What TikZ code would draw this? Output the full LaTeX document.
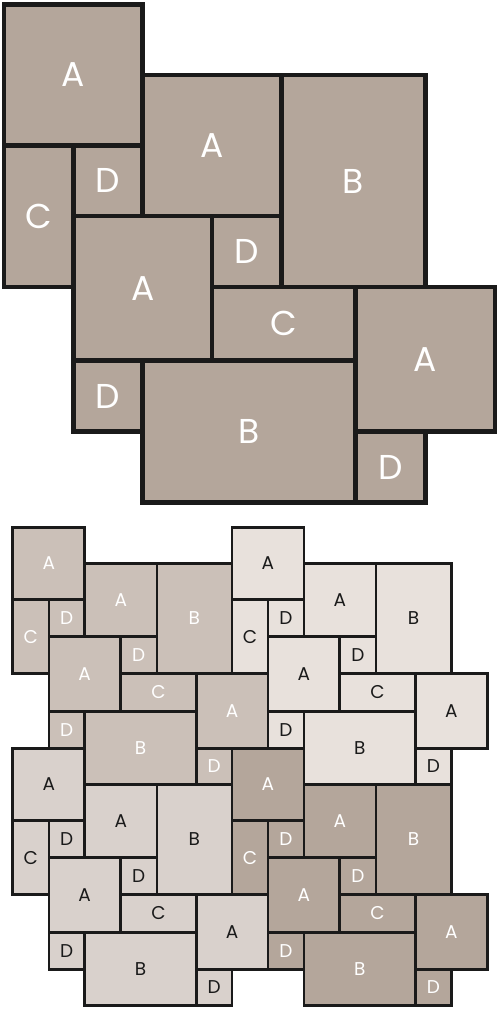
\documentclass[tikz,border=0pt]{standalone}
\usepackage{fontspec}
\newfontfamily\tilefont{Poppins}
\definecolor{linec}{HTML}{1A1A1A}
\definecolor{tileA}{HTML}{B4A69B}
\definecolor{tileB}{HTML}{CBC0B8}
\definecolor{tileC}{HTML}{E8E1DC}
\definecolor{tileD}{HTML}{D9D1CC}
\definecolor{darktext}{HTML}{1A1A1A}
\tikzset{tile/.style={draw=linec, rectangle, inner sep=0pt, outer sep=0pt, line join=miter}}
\def\bigX{{0,69.5,138.5,208,277.5,351.5,421.5,491}}
\def\bigY{{0,70.5,141,211.5,282.5,356,427,498}}
\def\smallX{{0,36,71.9,107.7,144,183.5,219.2,255.2}}
\def\smallY{{0,36.3,72.5,109,146.3,184.1,221,257.3}}
% #1 prefix, #2 x0, #3 y0, #4 x offsets, #5 y offsets, #6 fill, #7 text colour, #8 line width, #9 font size
\newcommand\tilepattern[9]{%
  \foreach \tx/\ty/\tw/\th/\tl [count=\i] in {0/0/2/2/A, 2/1/2/2/A, 4/1/2/3/B, 0/2/1/2/C, 1/2/1/1/D, 1/3/2/2/A, 3/3/1/1/D, 3/4/2/1/C, 5/4/2/2/A, 1/5/1/1/D, 2/5/3/2/B, 5/6/1/1/D}{%
    \pgfmathtruncatemacro\txr{\tx+\tw}%
    \pgfmathtruncatemacro\tyb{\ty+\th}%
    \pgfmathsetmacro\xl{#4[\tx]}%
    \pgfmathsetmacro\xr{#4[\txr]}%
    \pgfmathsetmacro\yt{#5[\ty]}%
    \pgfmathsetmacro\yb{#5[\tyb]}%
    \pgfmathsetmacro\mw{\xr-\xl}%
    \pgfmathsetmacro\mh{\yb-\yt}%
    \pgfmathsetmacro\cx{#2+(\xl+\xr)/2}%
    \pgfmathsetmacro\cy{#3+(\yt+\yb)/2}%
    \node[tile, fill=#6, text=#7, line width=#8, font={\fontsize{#9}{#9}\selectfont\tilefont}, minimum width=\mw bp, minimum height=\mh bp] (#1\i) at (\cx,\cy) {\tl};
  }%
}
\begin{document}
\begin{tikzpicture}[x=1bp,y=-1bp]
\useasboundingbox (0,0) rectangle (500,1011);
% single pattern
\tilepattern{t}{4}{4.5}{\bigX}{\bigY}{tileA}{white}{4.8bp}{34.5bp}
% tiled 2x2
\tilepattern{p}{12.8}{527.2}{\smallX}{\smallY}{tileB}{white}{2.6bp}{18.5bp}
\tilepattern{q}{232.0}{527.2}{\smallX}{\smallY}{tileC}{darktext}{2.6bp}{18.5bp}
\tilepattern{r}{12.8}{748.2}{\smallX}{\smallY}{tileD}{darktext}{2.6bp}{18.5bp}
\tilepattern{s}{232.0}{748.2}{\smallX}{\smallY}{tileA}{white}{2.6bp}{18.5bp}
\end{tikzpicture}
\end{document}
